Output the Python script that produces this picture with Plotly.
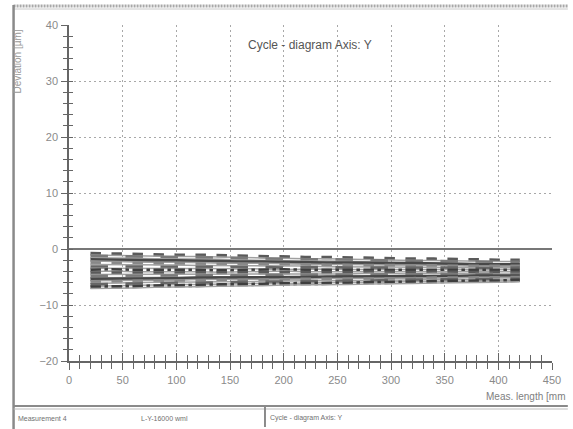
import plotly.graph_objects as go

# ---------------- data ----------------
x_mm = [20, 40, 60, 80, 100, 120, 140, 160, 180, 200, 220, 240, 260, 280, 300, 320, 340, 360, 380, 400, 420]

cycle_01 = [-0.8,-0.9,-0.9,-1.0,-1.1,-1.1,-1.2,-1.3,-1.3,-1.4,-1.5,-1.5,-1.6,-1.6,-1.7,-1.8,-1.8,-1.9,-1.9,-2.0,-2.0]
cycle_02 = [-1.3,-1.3,-1.4,-1.5,-1.5,-1.6,-1.6,-1.7,-1.8,-1.8,-1.9,-1.9,-2.0,-2.1,-2.1,-2.2,-2.2,-2.3,-2.3,-2.4,-2.4]
cycle_03 = [-1.9,-2.0,-2.0,-2.1,-2.1,-2.2,-2.2,-2.3,-2.3,-2.4,-2.4,-2.5,-2.5,-2.6,-2.6,-2.6,-2.7,-2.7,-2.8,-2.8,-2.8]
cycle_04 = [-2.5,-2.5,-2.6,-2.6,-2.6,-2.7,-2.7,-2.7,-2.8,-2.8,-2.8,-2.9,-2.9,-2.9,-3.0,-3.0,-3.0,-3.1,-3.1,-3.1,-3.1]
cycle_05 = [-3.2,-3.2,-3.3,-3.2,-3.3,-3.3,-3.3,-3.2,-3.3,-3.4,-3.3,-3.3,-3.4,-3.4,-3.3,-3.4,-3.4,-3.4,-3.5,-3.4,-3.4]
cycle_06 = [-3.8,-3.7,-3.8,-3.8,-3.7,-3.8,-3.9,-3.8,-3.8,-3.7,-3.8,-3.8,-3.9,-3.8,-3.8,-3.9,-3.8,-3.8,-3.8,-3.9,-3.8]
cycle_07 = [-4.3,-4.3,-4.2,-4.3,-4.3,-4.2,-4.3,-4.2,-4.2,-4.3,-4.2,-4.2,-4.2,-4.1,-4.2,-4.2,-4.1,-4.2,-4.2,-4.2,-4.2]
cycle_08 = [-4.9,-4.9,-4.8,-4.8,-4.8,-4.8,-4.7,-4.8,-4.7,-4.7,-4.7,-4.6,-4.7,-4.6,-4.6,-4.6,-4.5,-4.6,-4.5,-4.5,-4.5]
cycle_09 = [-5.4,-5.4,-5.3,-5.3,-5.3,-5.2,-5.2,-5.2,-5.1,-5.1,-5.1,-5.0,-5.0,-5.0,-5.0,-4.9,-4.9,-4.9,-4.8,-4.8,-4.8]
cycle_10 = [-5.9,-5.8,-5.8,-5.7,-5.7,-5.6,-5.6,-5.6,-5.5,-5.5,-5.4,-5.4,-5.4,-5.3,-5.3,-5.3,-5.2,-5.2,-5.2,-5.1,-5.1]
cycle_11 = [-6.4,-6.3,-6.3,-6.2,-6.1,-6.1,-6.0,-6.0,-5.9,-5.9,-5.8,-5.8,-5.7,-5.7,-5.6,-5.6,-5.5,-5.5,-5.5,-5.4,-5.4]
cycle_12 = [-6.8,-6.8,-6.7,-6.6,-6.6,-6.5,-6.4,-6.4,-6.3,-6.2,-6.2,-6.1,-6.1,-6.0,-6.0,-5.9,-5.8,-5.8,-5.7,-5.7,-5.6]

cycles = [cycle_01, cycle_02, cycle_03, cycle_04, cycle_05, cycle_06,
          cycle_07, cycle_08, cycle_09, cycle_10, cycle_11, cycle_12]

x_ticks = [0, 50, 100, 150, 200, 250, 300, 350, 400, 450]
y_ticks = [-20, -10, 0, 10, 20, 30, 40]

title_text = "Cycle - diagram Axis: Y"
y_label = "Deviation [µm]"
x_label = "Meas. length [mm"
status_texts = ["Measurement 4", "L-Y-16000 wml", "Cycle - diagram Axis: Y"]

# ---------------- figure ----------------
W, H = 573, 429
ML, MR, MT, MB = 69, 16, 25, 68
PW, PH = W - ML - MR, H - MT - MB

def px(xp):
    return (xp - ML) / PW

def py(yp):
    return (H - MB - yp) / PH

FONT = "Liberation Sans, Arial, sans-serif"

fig = go.Figure()

colors = ["#5a5a5a", "#7a7a7a", "#484848", "#888888", "#666666", "#3e3e3e"]
dashes = ["dash", "longdash", "solid", "dash", "longdash", "dashdot"]
for i, c in enumerate(cycles):
    fig.add_trace(go.Scatter(
        x=x_mm, y=c, mode="lines",
        line=dict(color=colors[i % len(colors)], width=3.5, dash=dashes[i % len(dashes)]),
        showlegend=False, hoverinfo="skip"))
    fig.add_trace(go.Scatter(
        x=x_mm, y=[v - 0.25 for v in c], mode="lines",
        line=dict(color="#a0a0a0", width=1.5),
        showlegend=False, hoverinfo="skip"))

tick_font = dict(family=FONT, size=11, color="#8a8a8a")
GRID_DASH = "2px,3px"

fig.update_layout(
    width=W, height=H,
    margin=dict(l=ML, r=MR, t=MT, b=MB),
    paper_bgcolor="white", plot_bgcolor="white",
    font=dict(family=FONT, color="#777777"),
    xaxis=dict(range=[0, 450], tickvals=x_ticks, ticks="outside", ticklen=7,
               tickcolor="#666666", tickwidth=1,
               minor=dict(dtick=10, tick0=0, ticks="outside", ticklen=6, tickcolor="#666666", showgrid=False),
               showline=True, linecolor="#666666", linewidth=1.5,
               showgrid=True, gridcolor="#a8a8a8", griddash=GRID_DASH, gridwidth=1,
               zeroline=False, tickfont=tick_font, ticklabelstandoff=1),
    xaxis2=dict(range=[0, 450], overlaying="x", side="bottom", anchor="y",
                tickvals=x_ticks, ticks="inside", ticklen=8, tickcolor="#666666",
                minor=dict(dtick=10, tick0=0, ticks="inside", ticklen=6, tickcolor="#666666"),
                showticklabels=False, showgrid=False, zeroline=False, showline=False),
    yaxis=dict(range=[-20, 40], tickvals=y_ticks, ticks="outside", ticklen=6,
               tickcolor="#666666",
               minor=dict(dtick=2, tick0=0, ticks="outside", ticklen=4, tickcolor="#666666", showgrid=False),
               showline=True, linecolor="#666666", linewidth=1.5,
               showgrid=True, gridcolor="#a8a8a8", griddash=GRID_DASH, gridwidth=1,
               zeroline=True, zerolinecolor="#777777", zerolinewidth=1.5,
               tickfont=tick_font, ticklabelstandoff=1),
    yaxis2=dict(range=[-20, 40], overlaying="y", side="left", anchor="x",
                tickvals=y_ticks, ticks="inside", ticklen=4, tickcolor="#666666",
                minor=dict(dtick=2, tick0=0, ticks="inside", ticklen=4, tickcolor="#666666"),
                showticklabels=False, showgrid=False, zeroline=False, showline=False),
)

# invisible trace to activate secondary axes
fig.add_trace(go.Scatter(x=[None], y=[None], xaxis="x2", yaxis="y2", showlegend=False))

fig.add_annotation(text=title_text, xref="paper", yref="paper", x=px(312), y=py(45),
                   xanchor="center", yanchor="middle", showarrow=False,
                   font=dict(family=FONT, size=12, color="#555555"))
fig.add_annotation(text=y_label, xref="paper", yref="paper", x=px(17), y=py(28),
                   xanchor="center", yanchor="top", textangle=-90, showarrow=False,
                   font=dict(family=FONT, size=10, color="#999999"))
fig.add_annotation(text=x_label, xref="paper", yref="paper", x=px(572), y=py(396),
                   xanchor="right", yanchor="middle", showarrow=False,
                   font=dict(family=FONT, size=10, color="#808080"))

# status bar texts
for txt, xp in zip(status_texts, [15, 140, 270]):
    fig.add_annotation(text=txt, xref="paper", yref="paper", x=px(xp), y=py(418),
                       xanchor="left", yanchor="middle", showarrow=False,
                       font=dict(family=FONT, size=7, color="#707070"))

# window frame decorations
frame = [
    dict(x0=px(13), x1=px(573), y0=py(6), y1=py(6), w=3, c="#a8a8a8", dash="2px,1px"),
    dict(x0=px(13), x1=px(573), y0=py(9), y1=py(9), w=1, c="#c8c8c8", dash="solid"),
    dict(x0=px(13), x1=px(13), y0=py(5), y1=py(429), w=2.5, c="#8a8a8a", dash="solid"),
    dict(x0=px(13), x1=px(573), y0=py(406), y1=py(406), w=2, c="#8a8a8a", dash="solid"),
    dict(x0=px(13), x1=px(573), y0=py(409), y1=py(409), w=1, c="#bbbbbb", dash="solid"),
    dict(x0=px(267), x1=px(267), y0=py(406), y1=py(427), w=2, c="#8a8a8a", dash="solid"),
]
for f in frame:
    fig.add_shape(type="line", xref="paper", yref="paper", x0=f["x0"], x1=f["x1"],
                  y0=f["y0"], y1=f["y1"], line=dict(color=f["c"], width=f["w"], dash=f["dash"]))

fig.write_html("out.html")
